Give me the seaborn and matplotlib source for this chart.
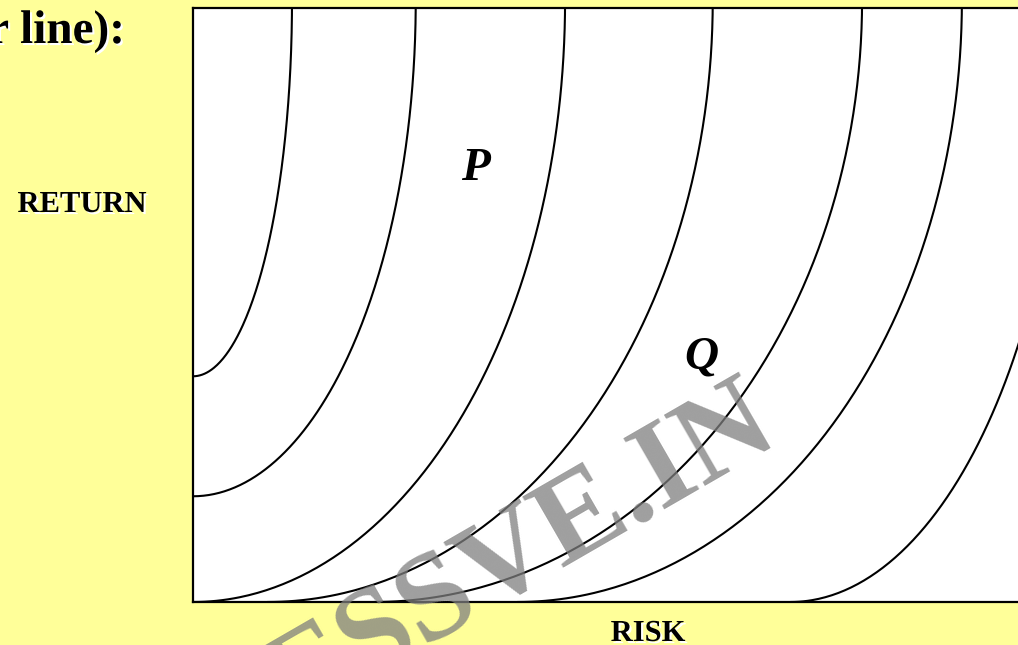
import numpy as np
import pandas as pd
import matplotlib
matplotlib.use("Agg")
import matplotlib.pyplot as plt
import matplotlib.patheffects as pe
import seaborn as sns

# Indifference curves (risk = x, return = y, axes 0..10)
curve_ids = ["A", "B", "C", "D", "E", "F", "G"]
start_risk = [0.0, 0.0, 0.0, 0.90, 2.19, 3.93, 7.24]      # where each curve is flat
start_return = [3.80, 1.78, 0.0, 0.0, 0.0, 0.0, 0.0]
end_risk = [1.20, 2.70, 4.51, 6.30, 8.11, 9.32, 10.61]    # where each curve turns vertical
end_return = [10.13] * 7

sns.set_theme(style="white")
plt.rcParams["font.family"] = ["Liberation Serif", "DejaVu Serif"]
plt.rcParams["text.color"] = "black"

# quarter-ellipse arcs between the two anchors of each curve
t = np.linspace(0, np.pi / 2, 200)
rows = []
for cid, xs, ys, xe, ye in zip(curve_ids, start_risk, start_return, end_risk, end_return):
    rows.append(pd.DataFrame({
        "curve": cid,
        "risk": xs + (xe - xs) * np.sin(t),
        "ret": ye - (ye - ys) * np.cos(t),
    }))
df = pd.concat(rows, ignore_index=True)

fig = plt.figure(figsize=(10.18, 6.45), dpi=100)
fig.patch.set_facecolor("#FFFF99")
ax = fig.add_axes([193 / 1018, 43 / 645, 825 / 1018, 594 / 645])
ax.set_facecolor("white")

sns.lineplot(data=df, x="risk", y="ret", units="curve", estimator=None, sort=False,
             color="black", lw=1.5, ax=ax, legend=False)

ax.set_xlim(0, 10)
ax.set_ylim(0, 10)
ax.set_xticks([])
ax.set_yticks([])
ax.set_xlabel("")
ax.set_ylabel("")
for side in ["left", "bottom", "top"]:
    ax.spines[side].set_color("black")
    ax.spines[side].set_linewidth(1.6)
ax.spines["right"].set_visible(False)

shadow = [pe.withSimplePatchShadow(offset=(1.5, -1.5), shadow_rgbFace="white", alpha=1.0)]

def px(x, y):
    return x / 1018, (645 - y) / 645

fig.text(*px(125, 43), "r line):", ha="right", va="baseline", fontsize=34,
         fontweight="bold", color="black", path_effects=shadow)
fig.text(*px(82, 212), "RETURN", ha="center", va="baseline", fontsize=22,
         fontweight="bold", color="black", path_effects=shadow)
fig.text(*px(648, 641), "RISK", ha="center", va="baseline", fontsize=22,
         fontweight="bold", color="black", path_effects=shadow)

ax.text(3.42, 7.10, "P", ha="center", va="baseline", fontsize=34,
        fontweight="bold", fontstyle="italic", color="black")
ax.text(6.16, 3.93, "Q", ha="center", va="baseline", fontsize=34,
        fontweight="bold", fontstyle="italic", color="black")

# watermark
fig.text(*px(537, 582), "ESSVE.IN", ha="center", va="baseline", rotation=30,
         rotation_mode="anchor", fontsize=90, fontweight="bold",
         color="#7f7f7f", alpha=0.75, zorder=10)

fig.savefig("out.png", dpi=100, facecolor=fig.get_facecolor())
